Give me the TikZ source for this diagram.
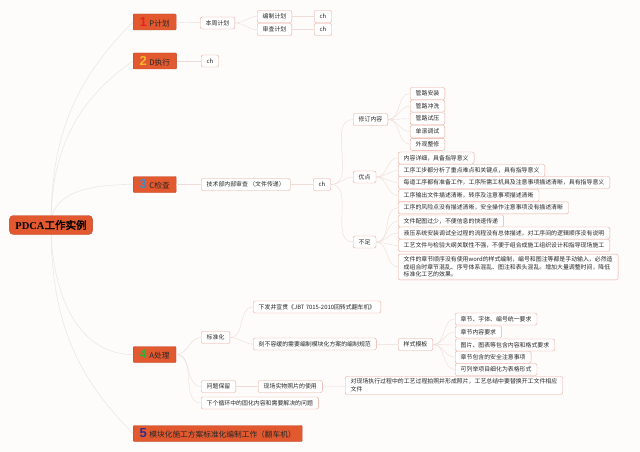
\documentclass[tikz,border=0pt]{standalone}
\usepackage{fontspec}
\setmainfont{Noto Sans CJK SC}
\newfontfamily\numfont{Liberation Sans}
\newfontfamily\rootlat{Liberation Serif}
\newfontfamily\rootcjk{Noto Sans CJK SC}[FakeBold=2.5]
\usetikzlibrary{backgrounds}
\definecolor{pdorange}{HTML}{E2592F}
\definecolor{pdedge}{HTML}{B8472A}
\definecolor{pdpink}{HTML}{EBA697}
\definecolor{pdline}{HTML}{EFDCD7}
\definecolor{pdtrunk}{HTML}{E6E1DE}
\definecolor{pdbg}{HTML}{FDFCFB}
\definecolor{nOne}{HTML}{E8231F}
\definecolor{nTwo}{HTML}{F6B62B}
\definecolor{nThree}{HTML}{3D8CC6}
\definecolor{nFour}{HTML}{3FA73A}
\definecolor{nFive}{HTML}{2B2E8C}
\newcommand{\phnum}[2]{{\numfont\bfseries\fontsize{13}{13}\selectfont\color{#1}#2}\hspace{2.5pt}}
\begin{document}
\begin{tikzpicture}[x=1pt,y=-1pt,
  font=\fontsize{5.9}{7.6}\selectfont,
  hub/.style={fill=pdorange,draw=pdedge,rounded corners=4pt,inner xsep=6pt,minimum height=19pt,font=\fontsize{10.5}{12}\selectfont},
  phase/.style={anchor=west,fill=pdorange,draw=pdedge,rounded corners=1pt,inner xsep=6.5pt,inner ysep=0pt,minimum height=16pt,text=black!85,font=\fontsize{7.7}{9}\selectfont},
  leaf/.style={anchor=west,fill=white,draw=pdpink,rounded corners=2pt,inner xsep=5.5pt,inner ysep=1pt,minimum height=12pt,text=black!85},
  para/.style={leaf,align=left,inner ysep=2.5pt},
  trunk/.style={pdtrunk,thin},
  twig/.style={pdline,thin}]
\begin{scope}[on background layer]
\fill[pdbg] (0,0) rectangle (640,452);
\end{scope}
\useasboundingbox (0,0) rectangle (640,452);
% root and phases
\node[hub] (pdca) at (51,225) {{\rootlat\bfseries PDCA}{\rootcjk 工作实例}};
\node[phase] (plan) at (133,22) {\phnum{nOne}{1}P计划};
\node[phase] (do) at (133,61) {\phnum{nTwo}{2}D执行};
\node[phase] (check) at (133,184.5) {\phnum{nThree}{3}C检查};
\node[phase] (act) at (133,354.5) {\phnum{nFour}{4}A处理};
\node[phase] (std) at (133,433.5) {\phnum{nFive}{5}模块化施工方案标准化编制工作（翻车机）};
% P
\node[leaf] (zhou) at (200,23) {本周计划};
\node[leaf] (bzjh) at (257,16.5) {编制计划};
\node[leaf] (scjh) at (257,29.5) {审查计划};
\node[leaf] (chA) at (314,16.5) {ch};
\node[leaf] (chB) at (314,29.5) {ch};
% D
\node[leaf] (chD) at (201,61) {ch};
% C
\node[leaf] (jsb) at (201,184.5) {技术部内部审查 （文件传递）};
\node[leaf] (chC) at (313,184.5) {ch};
\node[leaf] (xdnr) at (353,119.5) {修订内容};
\node[leaf] (gl1) at (410,93.5) {管路安装};
\node[leaf] (gl2) at (410,106) {管路冲洗};
\node[leaf] (gl3) at (410,118.7) {管路试压};
\node[leaf] (gl4) at (410,131.5) {单滚调试};
\node[leaf] (gl5) at (410,144.3) {外观整修};
\node[leaf] (yd) at (353,177) {优点};
\node[leaf] (yd1) at (398,158) {内容详细，具备指导意义};
\node[leaf] (yd2) at (398,170.5) {工序工步都分析了重点难点和关键点，具有指导意义};
\node[leaf] (yd3) at (398,182.5) {每道工序都有准备工作，工序所需工机具及注意事项描述清晰，具有指导意义};
\node[leaf] (yd4) at (398,195.5) {工序输出文件描述清晰，转序及注意事项描述清晰};
\node[leaf] (bz) at (353,242) {不足};
\node[leaf] (bz1) at (398,207.8) {工序的风险点没有描述清晰，安全操作注意事项没有描述清晰};
\node[leaf] (bz2) at (398,221) {文件配图过少，不便信息的快速传递};
\node[leaf] (bz3) at (398,233) {液压系统安装调试全过程的流程没有总体描述，对工序间的逻辑顺序没有说明};
\node[leaf] (bz4) at (398,245.5) {工艺文件与检验大纲关联性不强，不便于组合成施工组织设计和指导现场施工};
\node[para] (bz5) at (398,267) {文件的章节顺序没有使用word的样式编制，编号和图注等都是手动输入，必然造\\成组合时章节混乱、序号体系混乱、图注和表头混乱。增加大量调整时间，降低\\标准化工艺的效果。};
% A
\node[leaf] (bzh) at (201,337.5) {标准化};
\node[leaf] (xf) at (253,307) {下发并宣贯《JBT 7015-2010回转式翻车机》};
\node[leaf] (kbrh) at (253,344) {刻不容缓的需要编制模块化方案的编制规范};
\node[leaf] (ysmb) at (398,344.5) {样式模板};
\node[leaf] (ys1) at (455,319) {章节、字体、编号统一要求};
\node[leaf] (ys2) at (455,332) {章节内容要求};
\node[leaf] (ys3) at (455,345) {图片、图表等包含内容和格式要求};
\node[leaf] (ys4) at (455,357.2) {章节包含的安全注意事项};
\node[leaf] (ys5) at (455,369.5) {可列举项目细化为表格形式};
\node[leaf] (wtbl) at (201,386.5) {问题保留};
\node[leaf] (xczp) at (258,386.5) {现场实物照片的使用};
\node[para] (dxc) at (345,385.5) {对现场执行过程中的工艺过程拍照并形成照片，工艺总结中要替换开工文件相应\\文件};
\node[leaf] (xgxh) at (201,403) {下个循环中的固化内容和需要解决的问题};
% connectors
\begin{scope}[on background layer]
\draw[trunk] (pdca.center) to[out=90,in=225] (plan.west);
\draw[trunk] (pdca.center) to[out=90,in=215] (do.west);
\draw[trunk] (pdca.center) to[out=90,in=180] (check.west);
\draw[trunk] (pdca.center) to[out=-90,in=180] (act.west);
\draw[trunk] (pdca.center) to[out=-90,in=135] (std.west);
\end{scope}
\draw[twig] (plan) -- (zhou);
\draw[twig] (zhou.east) to[out=0,in=180] (bzjh.west); \draw[twig] (zhou.east) to[out=0,in=180] (scjh.west);
\draw[twig] (bzjh) -- (chA); \draw[twig] (scjh) -- (chB);
\draw[twig] (do) -- (chD);
\draw[twig] (check) -- (jsb); \draw[twig] (jsb) -- (chC);
\foreach \n in {xdnr,yd,bz} \draw[twig] (chC.east) to[out=0,in=180] (\n.west);
\foreach \n in {gl1,gl2,gl3,gl4,gl5} \draw[twig] (xdnr.east) to[out=0,in=180] (\n.west);
\foreach \n in {yd1,yd2,yd3,yd4} \draw[twig] (yd.east) to[out=0,in=180] (\n.west);
\foreach \n in {bz1,bz2,bz3,bz4,bz5} \draw[twig] (bz.east) to[out=0,in=180] (\n.west);
\foreach \n in {bzh,wtbl,xgxh} \draw[twig] (act.east) to[out=0,in=180] (\n.west);
\draw[twig] (bzh.east) to[out=0,in=180] (xf.west); \draw[twig] (bzh.east) to[out=0,in=180] (kbrh.west);
\draw[twig] (kbrh) -- (ysmb);
\foreach \n in {ys1,ys2,ys3,ys4,ys5} \draw[twig] (ysmb.east) to[out=0,in=180] (\n.west);
\draw[twig] (wtbl) -- (xczp); \draw[twig] (xczp) -- (dxc);
\end{tikzpicture}
\end{document}
